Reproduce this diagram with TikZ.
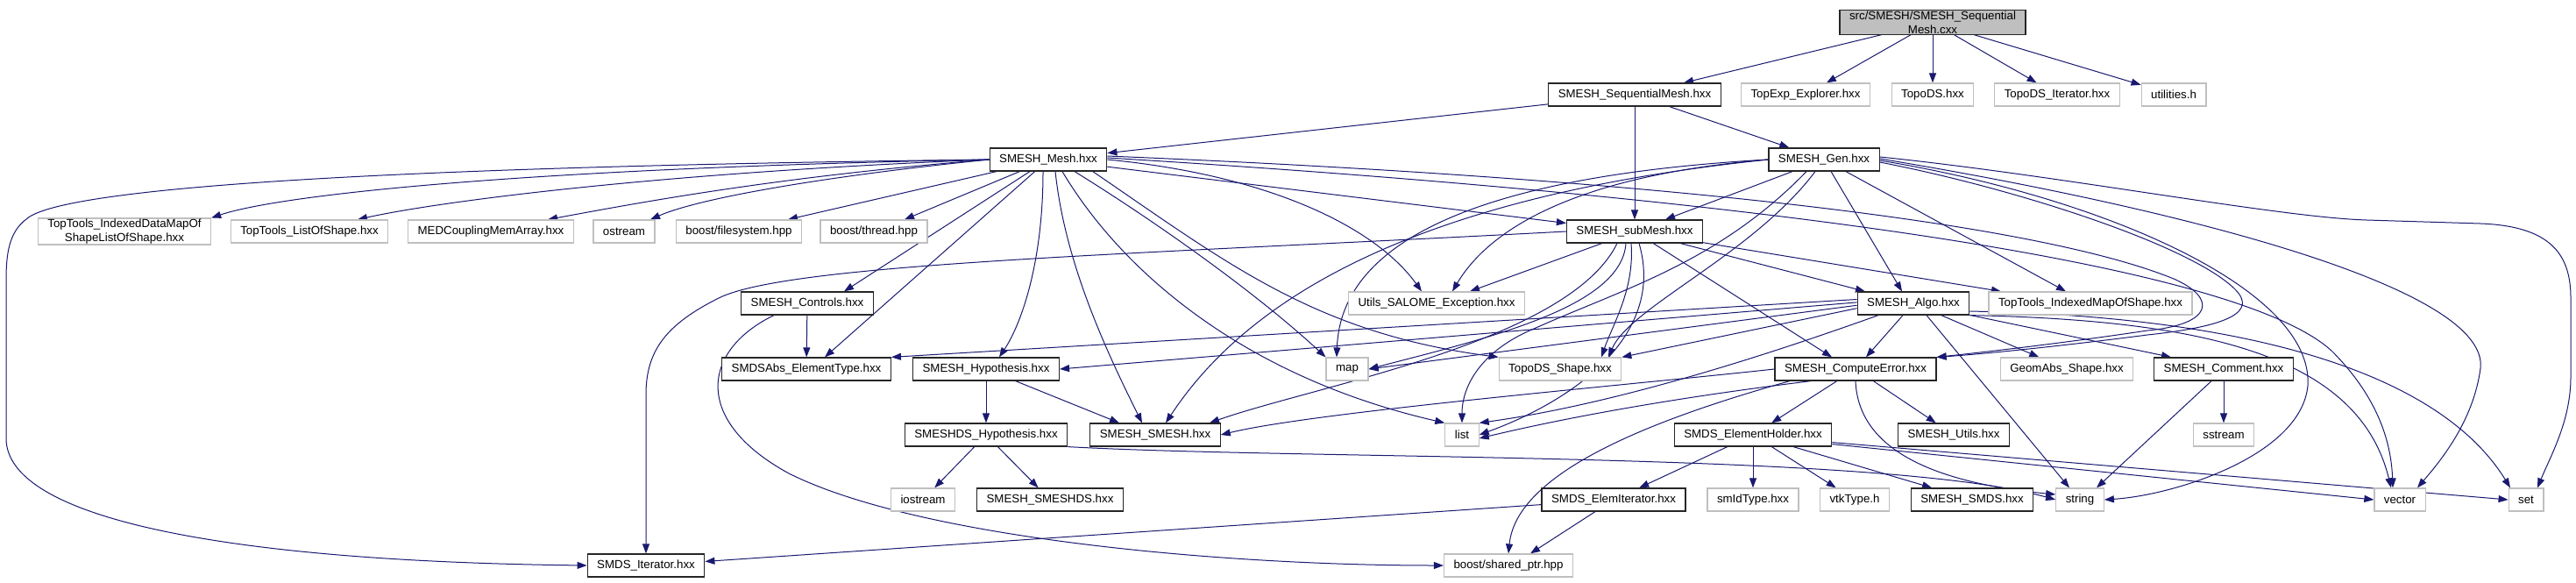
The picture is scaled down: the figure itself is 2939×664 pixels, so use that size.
\documentclass[tikz,border=0pt]{standalone}
\usepackage{fontspec}
\setmainfont{Liberation Sans}
\usetikzlibrary{arrows.meta,backgrounds}
\definecolor{mdnblue}{RGB}{25,25,112}
\definecolor{grey75}{RGB}{191,191,191}

\begin{document}
\begin{tikzpicture}[x=1pt,y=-1pt,
        hdrbox/.style={draw=black!85,line width=1.2pt,fill=white,inner xsep=11pt,inner ysep=1pt,
          minimum height=26pt,align=center,font=\fontsize{13.3}{15.5}\selectfont},
        extbox/.style={hdrbox,draw=grey75},
        rootbox/.style={hdrbox,fill=grey75},
        dep/.style={draw=mdnblue,line width=1pt,-{Triangle[length=11pt,width=8pt]}}]

        \useasboundingbox (0,0) rectangle (2939,664);

        %% first and second level
        \node [rootbox] (root) at (2205,25.5) {src/SMESH/SMESH\_Sequential\\Mesh.cxx};
        \node [hdrbox] (seqmesh) at (1865,108) {SMESH\_SequentialMesh.hxx};
        \node [extbox] (topexp) at (2060,108) {TopExp\_Explorer.hxx};
        \node [extbox] (topods) at (2205,108) {TopoDS.hxx};
        \node [extbox] (topods_iter) at (2347,108) {TopoDS\_Iterator.hxx};
        \node [extbox] (utilities) at (2480,108) {utilities.h};
        \node [hdrbox] (smesh_mesh) at (1196,182) {SMESH\_Mesh.hxx};
        \node [hdrbox] (smesh_gen) at (2081,182) {SMESH\_Gen.hxx};

        %% third level
        \node [extbox] (tt_idmap) at (142,264) {TopTools\_IndexedDataMapOf\\ShapeListOfShape.hxx};
        \node [extbox] (tt_list) at (353,264) {TopTools\_ListOfShape.hxx};
        \node [extbox] (medcoupling) at (560,264) {MEDCouplingMemArray.hxx};
        \node [extbox] (ostream) at (712,264) {ostream};
        \node [extbox] (filesystem) at (843,264) {boost/filesystem.hpp};
        \node [extbox] (thread) at (997,264) {boost/thread.hpp};
        \node [hdrbox] (submesh) at (1865,264) {SMESH\_subMesh.hxx};

        %% fourth level
        \node [hdrbox] (controls) at (921,346) {SMESH\_Controls.hxx};
        \node [extbox] (utils_exc) at (1639,346) {Utils\_SALOME\_Exception.hxx};
        \node [hdrbox] (algo) at (2183,346) {SMESH\_Algo.hxx};
        \node [extbox] (tt_imap) at (2385,346) {TopTools\_IndexedMapOfShape.hxx};

        \node [hdrbox] (smdsabs) at (920,421) {SMDSAbs\_ElementType.hxx};
        \node [hdrbox] (hypothesis) at (1125,421) {SMESH\_Hypothesis.hxx};
        \node [extbox] (map) at (1537,421) {map};
        \node [extbox] (topods_shape) at (1780,421) {TopoDS\_Shape.hxx};
        \node [hdrbox] (computeerror) at (2117,421) {SMESH\_ComputeError.hxx};
        \node [extbox] (geomabs) at (2358,421) {GeomAbs\_Shape.hxx};
        \node [hdrbox] (comment) at (2537,421) {SMESH\_Comment.hxx};

        \node [hdrbox] (smeshds_hyp) at (1125,496) {SMESHDS\_Hypothesis.hxx};
        \node [hdrbox] (smesh_smesh) at (1318,496) {SMESH\_SMESH.hxx};
        \node [extbox] (list) at (1668,496) {list};
        \node [hdrbox] (elemholder) at (2000,496) {SMDS\_ElementHolder.hxx};
        \node [hdrbox] (smesh_utils) at (2229,496) {SMESH\_Utils.hxx};
        \node [extbox] (sstream) at (2537,496) {sstream};

        \node [extbox] (iostream) at (1053,570) {iostream};
        \node [hdrbox] (smesh_smeshds) at (1198,570) {SMESH\_SMESHDS.hxx};
        \node [hdrbox] (elemiter) at (1841,570) {SMDS\_ElemIterator.hxx};
        \node [extbox] (smidtype) at (2000,570) {smIdType.hxx};
        \node [extbox] (vtktype) at (2116,570) {vtkType.h};
        \node [hdrbox] (smesh_smds) at (2250,570) {SMESH\_SMDS.hxx};
        \node [extbox] (string) at (2373,570) {string};
        \node [extbox] (vector) at (2738,570) {vector};
        \node [extbox] (set) at (2882,570) {set};

        \node [hdrbox] (smds_iter) at (737,645) {SMDS\_Iterator.hxx};
        \node [extbox] (shared_ptr) at (1721,645) {boost/shared\_ptr.hpp};

        \begin{scope}[on background layer]
        %% root and SMESH_SequentialMesh.hxx
        \foreach \t in {seqmesh,topexp,topods,topods_iter,utilities}
          \draw [dep] (root) -- (\t);
        \foreach \t in {smesh_mesh,submesh,smesh_gen}
          \draw [dep] (seqmesh) -- (\t);

        %% SMESH_Mesh.hxx
        \draw [dep] (smesh_mesh.west) .. controls (600,192) and (320,222) .. (tt_idmap.north east);
        \draw [dep] (smesh_mesh.west) .. controls (750,197) and (500,230) .. ([xshift=55pt]tt_list.north);
        \draw [dep] (smesh_mesh.west) .. controls (880,202) and (720,233) .. ([xshift=65pt]medcoupling.north);
        \draw [dep] (smesh_mesh.west) .. controls (950,200) and (800,225) .. ([xshift=30pt]ostream.north);
        \draw [dep] (smesh_mesh) -- ([xshift=56pt]filesystem.north);
        \draw [dep] (smesh_mesh) -- ([xshift=35pt]thread.north);
        \draw [dep] (smesh_mesh) -- ([xshift=42pt]controls.north);
        \draw [dep] (smesh_mesh) -- ([xshift=21pt]smdsabs.north);
        \draw [dep] ([xshift=-6pt]smesh_mesh.south) .. controls (1190,300) and (1165,370) .. ([xshift=15pt]hypothesis.north);
        \draw [dep] ([xshift=8pt]smesh_mesh.south) .. controls (1215,300) and (1262,400) .. ([xshift=-15pt]smesh_smesh.north);
        \draw [dep] ([xshift=16pt]smesh_mesh.south) .. controls (1280,310) and (1420,430) .. (list.north west);
        \draw [dep] ([xshift=30pt]smesh_mesh.south) .. controls (1330,260) and (1440,340) .. (map.north west);
        \draw [dep] (smesh_mesh.345) .. controls (1400,300) and (1500,380) .. (topods_shape.north west);
        \draw [dep] (smesh_mesh.east) .. controls (1450,200) and (1570,260) .. ([xshift=-17pt]utils_exc.north);
        \draw [dep] (smesh_mesh) -- (submesh);
        \draw [dep] ([yshift=4pt]smesh_mesh.east) .. controls (1800,200) and (2300,245) .. (2480,318)
          .. controls (2530,340) and (2525,370) .. (2450,377) .. controls (2350,392) and (2260,402) .. (computeerror.north east);
        \draw [dep] ([yshift=2pt]smesh_mesh.east) .. controls (2000,225) and (2550,300) .. (2660,400)
          .. controls (2710,450) and (2728,500) .. ([xshift=-8pt]vector.north);
        \draw [dep] (smesh_mesh.west) .. controls (300,192) and (60,222) .. (30,250) .. controls (10,265) and (7,290) .. (7,320)
          -- (7,500) .. controls (7,590) and (250,640) .. (smds_iter.west);

        %% SMESH_Gen.hxx
        \draw [dep] (smesh_gen) -- ([xshift=35pt]submesh.north);
        \draw [dep] (smesh_gen) -- ([xshift=-13pt]algo.north);
        \draw [dep] (smesh_gen) -- ([xshift=-28pt]tt_imap.north);
        \draw [dep] (smesh_gen.west) .. controls (1700,200) and (1530,270) .. ([xshift=-12pt]map.north);
        \draw [dep] (smesh_gen.west) .. controls (1800,200) and (1700,260) .. ([xshift=18pt]utils_exc.north);
        \draw [dep] (smesh_gen.west) .. controls (1700,215) and (1450,300) .. ([xshift=12pt]smesh_smesh.north);
        \draw [dep] ([xshift=-20pt]smesh_gen.south) .. controls (1960,300) and (1850,330) .. (1750,375)
          .. controls (1690,400) and (1668,440) .. (list.north);
        \draw [dep] ([xshift=-10pt]smesh_gen.south) .. controls (2000,290) and (1860,350) .. ([xshift=55pt]topods_shape.north);
        \draw [dep] ([yshift=-3pt]smesh_gen.east) .. controls (2300,215) and (2500,280) .. (2550,330)
          .. controls (2575,355) and (2545,372) .. (2450,382) .. controls (2350,395) and (2260,404) .. (computeerror.north east);
        \draw [dep] ([yshift=-1pt]smesh_gen.east) .. controls (2400,225) and (2640,330) .. (2633,440)
          .. controls (2625,520) and (2480,565) .. (string.east);
        \draw [dep] ([yshift=1pt]smesh_gen.east) .. controls (2500,240) and (2840,330) .. (2830,420)
          .. controls (2822,480) and (2785,525) .. ([xshift=20pt]vector.north);
        \draw [dep] ([yshift=3pt]smesh_gen.east) .. controls (2350,200) and (2600,248) .. (2700,251) -- (2830,255)
          .. controls (2910,258) and (2933,290) .. (2933,340) -- (2933,430)
          .. controls (2933,480) and (2910,520) .. ([xshift=13pt]set.north);

        %% SMESH_subMesh.hxx
        \draw [dep] (submesh.west) .. controls (1300,290) and (900,300) .. (820,340)
          .. controls (760,370) and (737,400) .. (737,450) -- (smds_iter.north);
        \draw [dep] (submesh) -- ([xshift=38pt]utils_exc.north);
        \draw [dep] (submesh) -- ([xshift=-27pt]computeerror.north);
        \draw [dep] (submesh) -- ([xshift=-55pt]algo.north);
        \draw [dep] (submesh) -- ([xshift=-102pt]tt_imap.north);
        \draw [dep] ([xshift=-10pt]submesh.south) .. controls (1850,350) and (1700,385) .. (map.east);
        \draw [dep] ([xshift=-4pt]submesh.south) .. controls (1865,330) and (1840,370) .. ([xshift=47pt]topods_shape.north);
        \draw [dep] ([xshift=5pt]submesh.south) .. controls (1900,380) and (1800,455) .. (list.east);
        \draw [dep] ([xshift=-20pt]submesh.south) .. controls (1790,390) and (1500,440) .. ([xshift=62pt]smesh_smesh.north);

        %% SMESH_Controls.hxx
        \draw [dep] (controls) -- (smdsabs);
        \draw [dep] ([xshift=-38pt]controls.south) .. controls (800,400) and (790,480) .. (900,540)
          .. controls (1050,615) and (1400,645) .. (shared_ptr.west);

        %% SMESH_Algo.hxx
        \draw [dep] (algo.176) -- (smdsabs.north east);
        \draw [dep] (algo.179) -- (hypothesis.east);
        \draw [dep] (algo.182) -- (map.east);
        \draw [dep] (algo.185) -- (topods_shape.north east);
        \draw [dep] ([xshift=-40pt]algo.south) .. controls (2030,400) and (1850,460) .. (list.north east);
        \draw [dep] (algo) -- (computeerror);
        \draw [dep] (algo) -- (geomabs);
        \draw [dep] (algo) -- ([xshift=-60pt]comment.north);
        \draw [dep] ([xshift=15pt]algo.south) -- ([xshift=-12pt]string.north);
        \draw [dep] (algo.south east) .. controls (2500,365) and (2690,400) .. ([xshift=-10pt]vector.north);
        \draw [dep] (algo.-8) .. controls (2550,360) and (2780,420) .. ([xshift=-18pt]set.north);

        %% SMESH_Hypothesis.hxx and SMESHDS_Hypothesis.hxx
        \draw [dep] (hypothesis) -- (smeshds_hyp);
        \draw [dep] (hypothesis) -- ([xshift=-41pt]smesh_smesh.north);
        \draw [dep] (smeshds_hyp) -- (iostream);
        \draw [dep] (smeshds_hyp) -- (smesh_smeshds);
        \draw [dep] (smeshds_hyp.south east) .. controls (1500,525) and (2150,515) .. (string.west);

        %% SMESH_ComputeError.hxx
        \draw [dep] (computeerror) -- (elemholder);
        \draw [dep] (computeerror) -- (smesh_utils);
        \draw [dep] (computeerror.south) .. controls (2120,510) and (2200,550) .. ([yshift=6pt]string.west);
        \draw [dep] (computeerror.west) .. controls (1850,440) and (1500,470) .. (smesh_smesh.east);
        \draw [dep] (computeerror.195) .. controls (1900,455) and (1780,478) .. ([yshift=-4pt]list.east);
        \draw [dep] ([xshift=-75pt]computeerror.south) .. controls (1880,480) and (1730,540) .. (shared_ptr.north);

        %% SMESH_Comment.hxx
        \draw [dep] (comment) -- (sstream);
        \draw [dep] ([xshift=-14pt]comment.south) -- ([xshift=19pt]string.north);

        %% SMDS_ElementHolder.hxx and SMDS_ElemIterator.hxx
        \foreach \t in {elemiter,smidtype,vtktype,smesh_smds}
          \draw [dep] (elemholder) -- (\t);
        \draw [dep] ([yshift=3pt]elemholder.south east) -- (vector.west);
        \draw [dep] ([yshift=5pt]elemholder.south east) -- (set.west);
        \draw [dep] (elemiter) -- (smds_iter);
        \draw [dep] (elemiter) -- ([xshift=25pt]shared_ptr.north);
        \end{scope}

      \end{tikzpicture}
\end{document}
